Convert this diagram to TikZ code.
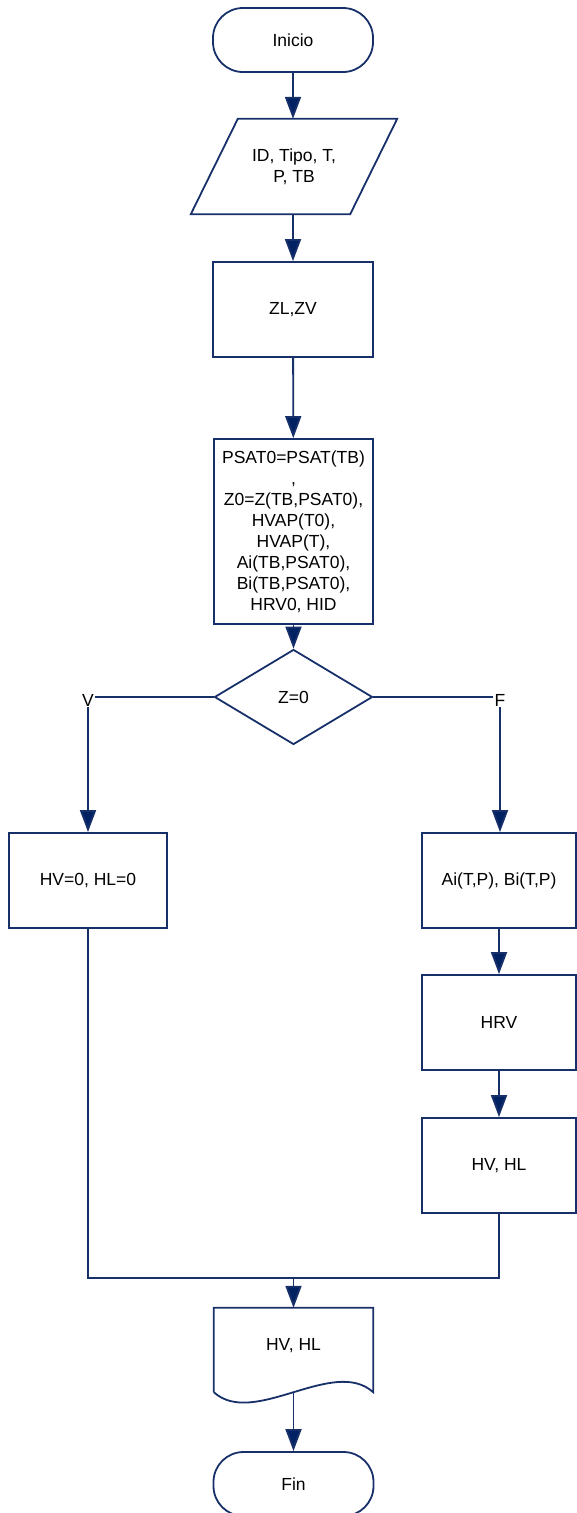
\documentclass[tikz,border=0pt]{standalone}
\usepackage{fontspec}
\setmainfont{Liberation Sans}
\usetikzlibrary{shapes.geometric,arrows.meta,calc}
\definecolor{navy}{RGB}{0,34,98}
\definecolor{edge}{RGB}{24,48,106}
\tikzset{
  base/.style={draw=edge, line width=1.8pt, align=center, inner sep=2pt, text=black,
    font=\fontsize{17.5}{21}\selectfont},
  procbox/.style={base, rectangle, minimum width=158pt, minimum height=95pt},
  termbox/.style={base, rectangle, rounded corners=30pt, minimum width=160pt, minimum height=64pt},
  decbox/.style={base, diamond, minimum width=158pt, minimum height=95pt, inner sep=0pt},
  ghost/.style={rectangle, align=center, inner sep=0pt, font=\fontsize{17.5}{21}\selectfont},
  lbl/.style={inner sep=1pt, font=\fontsize{17.5}{21}\selectfont},
  arr/.style={draw=edge, line width=1.8pt, -{Triangle[length=22pt,width=16pt,fill=navy]}},
  ln/.style={draw=edge, line width=1.8pt}
}
\begin{document}
\begin{tikzpicture}[x=1pt,y=-1pt]
\useasboundingbox (0,0) rectangle (577,1513);
% nodes
\node[termbox] (inicio) at (293,40) {Inicio};
\node[ghost, minimum width=206pt, minimum height=95pt] (io) at (294,166.5) {ID, Tipo, T,\\P, TB};
\draw[ln] ([xshift=47pt]io.north west) -- (io.north east) -- ([xshift=-47pt]io.south east) -- (io.south west) -- cycle;
\node[procbox, minimum width=160pt] (zl) at (293,309.5) {ZL,ZV};
\node[procbox, minimum width=159pt, minimum height=185pt] (psat) at (293.5,531.5)
  {PSAT0=PSAT(TB)\\,\\Z0=Z(TB,PSAT0),\\HVAP(T0),\\HVAP(T),\\Ai(TB,PSAT0),\\Bi(TB,PSAT0),\\HRV0, HID};
\node[decbox] (dec) at (293.5,697) {Z=0};
\node[lbl] (V) at (88,700) {V};
\node[lbl] (F) at (500,700) {F};
\node[procbox] (hv) at (88,880.5) {HV=0, HL=0};
\node[procbox, minimum width=154pt] (ai) at (499,880.5) {Ai(T,P), Bi(T,P)};
\node[procbox, minimum width=154pt] (hrv) at (499,1022.5) {HRV};
\node[procbox, minimum width=154pt] (hvhl) at (499,1165.5) {HV, HL};
\node[ghost, minimum width=159pt, minimum height=84pt] (doc) at (293.5,1350) {};
\node[ghost] at (293.5,1346) {HV, HL};
\draw[ln] (doc.south west) -- (doc.north west) -- (doc.north east) -- (doc.south east)
  .. controls ($(doc.south east)+(-40,-36)$) and ($(doc.south west)+(40,36)$) .. (doc.south west);
\node[termbox] (fin) at (293.5,1484) {Fin};
\coordinate (m) at (293.5,1278);
% connectors
\draw[arr] (inicio) -- (inicio |- io.north);
\draw[arr] (io.south -| inicio) -- (zl);
\draw[arr] (zl) -- (psat);
\draw[arr] (psat) -- (dec);
\draw[ln] (dec.west) -- (dec.west -| V.east);
\draw[ln] (dec.east) -- (dec.east -| F.west);
\draw[arr] (V.south) -- (hv.north);
\draw[arr] (F.south) -- (ai.north -| F.south);
\draw[arr] (ai) -- (hrv);
\draw[arr] (hrv) -- (hvhl);
\draw[ln] (hv.south) |- (m);
\draw[ln] (hvhl.south) |- (m);
\draw[arr] (m) -- (doc.north);
\draw[arr] (doc.south) -- (fin.north);
\end{tikzpicture}
\end{document}
